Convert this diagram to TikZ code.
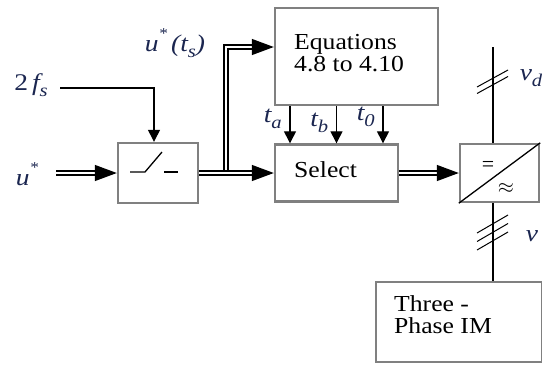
\documentclass[tikz,border=0pt]{standalone}
\usepackage{fontspec}
\setmainfont{Liberation Serif}
\usetikzlibrary{arrows.meta}
\definecolor{framegray}{HTML}{808080}
\definecolor{symbnavy}{HTML}{1B2650}
\newcommand\lsub[1]{\raisebox{-0.25em}{\fontsize{18}{18}\selectfont #1}}
\newcommand\lsup[1]{\raisebox{0.55em}{\fontsize{15}{15}\selectfont #1}}

\begin{document}
\begin{tikzpicture}[x=1bp,y=-1bp,
  blk/.style={draw=framegray,line width=2.4bp,inner sep=0pt},
  txt/.style={font=\fontsize{23}{22}\selectfont\addfontfeature{FakeStretch=1.12},align=left,inner sep=0pt,anchor=west},
  sym/.style={text=symbnavy,font=\fontsize{24}{24}\selectfont\itshape\addfontfeature{FakeStretch=1.15},inner sep=0pt},
  wire/.style={line width=1.3bp},
  sig/.style={wire,-{Triangle[length=12bp,width=12bp]}},
  bus/.style={double,double distance=2.6bp,line width=1.3bp,shorten >=20bp},
  bushead/.style={wire,-{Triangle[length=22bp,width=16bp]}}]
  \useasboundingbox (0,0) rectangle (542,365);
  % blocks
  \node[blk,minimum width=80bp,minimum height=60bp] (smp) at (158,173) {};
  \node[blk,minimum width=163bp,minimum height=97bp] (equ) at (356.5,56.5) {};
  \node[blk,minimum width=123bp,minimum height=57bp] (sel) at (336.5,173) {};
  \node[blk,minimum width=79bp,minimum height=58bp] (conv) at (499.5,173) {};
  \node[blk,minimum width=166bp,minimum height=80bp] (im) at (459,322) {};
  \node[txt] (equtxt) at (294,53) {Equations\\4.8 to 4.10};
  \node[txt] (seltxt) at (294,170) {Select};
  \node[txt] (imtxt) at (394,315) {Three -\\Phase IM};
  % sampling switch
  \draw[wire] (130,172) -- (145,172) -- (162,152);
  \draw[wire] (164,172) -- (178,172);
  % converter
  \draw[wire] (conv.south west) -- (conv.north east);
  \node[font=\fontsize{22}{22}\selectfont,inner sep=0pt] (dcsym) at (488,166) {=};
  \node[font=\fontsize{20}{20}\selectfont,inner sep=0pt] (acsym) at (506,189) {$\approx$};
  % signal labels
  \node[sym] (ulbl) at (27,174) {u\lsup{*}};
  \node[sym] (fslbl) at (31,85) {\upshape 2\,\itshape f\lsub{s}};
  \node[sym] (utslbl) at (175,43) {u\lsup{*}\,(t\lsub{s})};
  \node[sym] (vdlbl) at (531,78) {v\lsub{d}};
  \node[sym] (vlbl) at (532,236) {v};
  % connectors
  \coordinate (uin) at (56,173);
  \coordinate (fsin) at (60,88);
  \coordinate (br) at (226,173);
  \coordinate (vdtop) at (493,47);
  \draw[bus] (uin) -- (smp.west);
  \draw[bushead] ([xshift=-22bp]smp.west) -- (smp.west);
  \draw[sig] (fsin) -| ([xshift=-4bp]smp.north);
  \draw[bus] (br) |- ([yshift=9.5bp]equ.west);
  \draw[bushead] ([xshift=-22bp,yshift=9.5bp]equ.west) -- ([yshift=9.5bp]equ.west);
  \draw[bus] (smp.east) -- (sel.west);
  \draw[bushead] ([xshift=-22bp]sel.west) -- (sel.west);
  \draw[bus] (sel.east) -- (conv.west);
  \draw[bushead] ([xshift=-22bp]conv.west) -- (conv.west);
  \foreach \dx/\s/\ly in {-46.5/a/119, 0/b/123, 46.5/0/117} {
    \coordinate (t\s) at ([xshift=\dx bp]sel.north);
    \draw[sig] (equ.south -| t\s) -- (t\s);
    \node[sym,anchor=east] (tlbl\s) at ([xshift=-8bp]t\s |- 0,\ly) {t\lsub{\s}};
  }
  \draw[wire] (vdtop) -- (vdtop |- conv.north);
  \draw[wire] (vdtop |- conv.south) -- (vdtop |- im.north);
  \foreach \dy in {0,6.5}
    \draw[line width=1bp] (477,87+\dy) -- (508,70+\dy);
  \foreach \dy in {0,8.5,17}
    \draw[line width=1bp] (477,233+\dy) -- (508,215+\dy);
\end{tikzpicture}
\end{document}
